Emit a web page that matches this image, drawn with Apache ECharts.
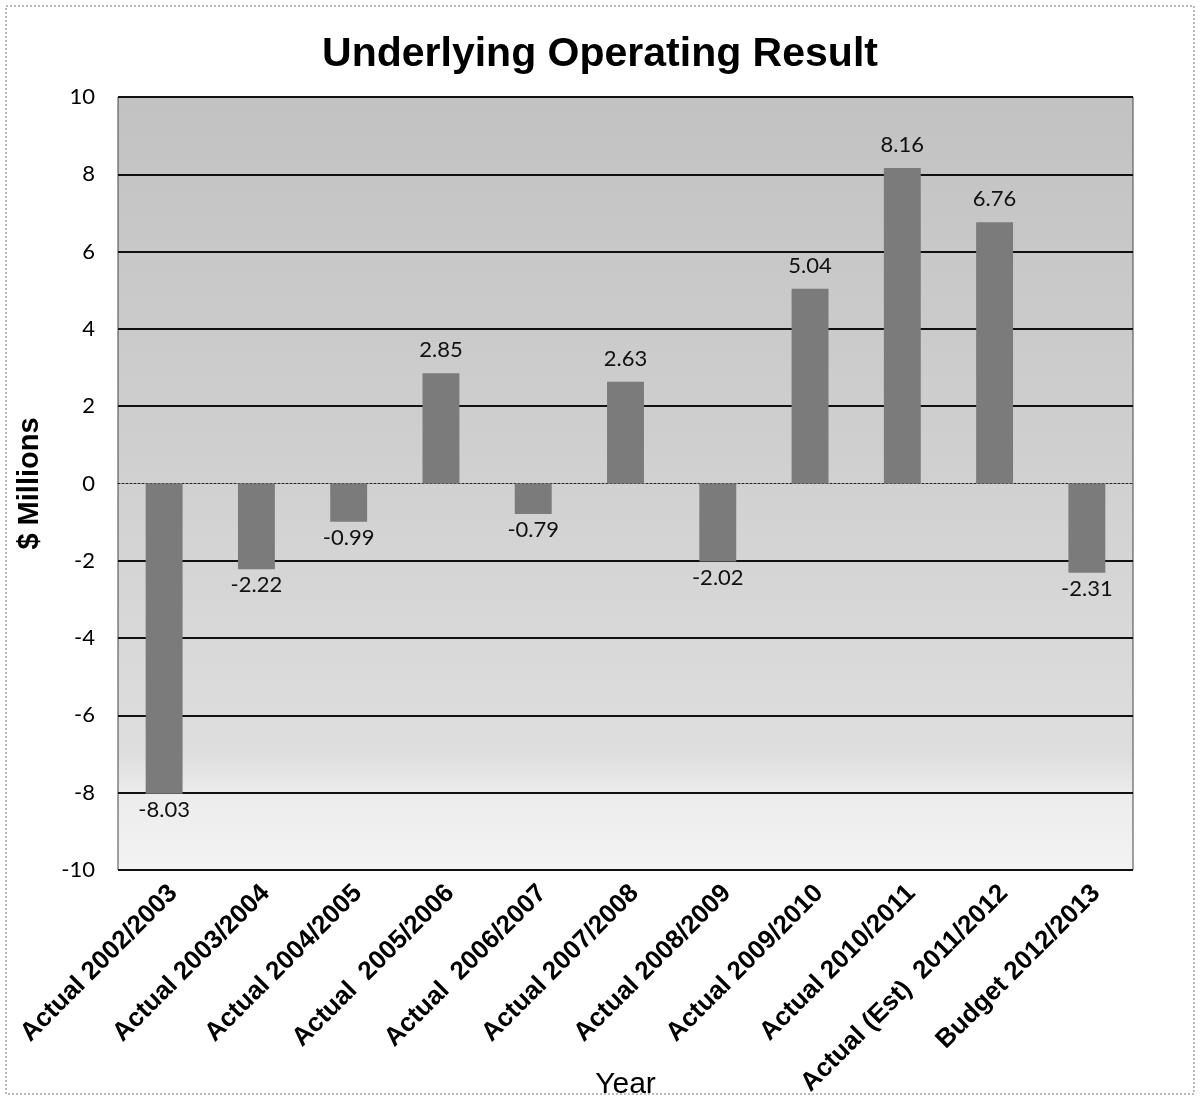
<!DOCTYPE html>
<html>
<head>
<meta charset="utf-8">
<script src="https://cdn.jsdelivr.net/npm/echarts@6/dist/echarts.min.js"></script>
<style>
  html, body { margin: 0; padding: 0; background: #fff; }
  #chart { width: 1200px; height: 1101px; }
</style>
</head>
<body>
<div id="chart"></div>
<script>
// Underlying operating result by financial year ($ millions)
const categories = [
  'Actual 2002/2003', 'Actual 2003/2004', 'Actual 2004/2005', 'Actual  2005/2006',
  'Actual  2006/2007', 'Actual 2007/2008', 'Actual 2008/2009', 'Actual 2009/2010',
  'Actual 2010/2011', 'Actual (Est)  2011/2012', 'Budget 2012/2013'
];
const results = [-8.03, -2.22, -0.99, 2.85, -0.79, 2.63, -2.02, 5.04, 8.16, 6.76, -2.31];
const yMin = -10, yMax = 10, yStep = 2;

// gridline colours, one per tick from -10 up to 10; the zero line is drawn by the x axis instead
const gridColors = [];
for (let v = yMin; v <= yMax; v += yStep) gridColors.push(v === 0 ? 'rgba(0,0,0,0)' : '#111');

const chart = echarts.init(document.getElementById('chart'));

chart.setOption({
  backgroundColor: '#ffffff',
  animation: false,
  title: {
    text: 'Underlying Operating Result',
    left: 'center',
    top: 29,
    textStyle: { fontFamily: 'Liberation Sans, Arial', fontSize: 41, fontWeight: 'bold', color: '#000' }
  },
  graphic: [{
    type: 'rect',
    shape: { x: 6, y: 6, width: 1188, height: 1088 },
    style: { fill: null, stroke: '#777', lineWidth: 1, lineDash: [2, 2] },
    silent: true
  }],
  grid: {
    left: 118, right: 67, top: 97, bottom: 231,
    containLabel: false,
    outerBoundsMode: 'none',
    show: true,
    borderColor: '#444',
    borderWidth: 1,
    backgroundColor: new echarts.graphic.LinearGradient(0, 0, 0, 1, [
      { offset: 0, color: '#c2c2c2' },
      { offset: 0.45, color: '#cfcfcf' },
      { offset: 0.85, color: '#dedede' },
      { offset: 0.9, color: '#ececec' },
      { offset: 1, color: '#f3f3f3' }
    ])
  },
  xAxis: {
    type: 'category',
    data: categories,
    name: 'Year',
    nameLocation: 'middle',
    nameGap: 200,
    nameMoveOverlap: false,
    nameTextStyle: { fontFamily: 'Liberation Sans, Arial', fontSize: 30, color: '#000' },
    axisLine: { show: true, onZero: true, lineStyle: { color: '#222', width: 1, type: [2, 2] } },
    axisTick: { show: false },
    axisLabel: {
      rotate: 45,
      interval: 0,
      margin: 10,
      verticalAlign: 'top',
      fontFamily: 'Liberation Sans, Arial',
      fontSize: 26,
      fontWeight: 'bold',
      color: '#000'
    }
  },
  yAxis: {
    type: 'value',
    min: yMin,
    max: yMax,
    interval: yStep,
    name: '$ Millions',
    nameLocation: 'middle',
    nameGap: 74,
    nameRotate: 90,
    nameMoveOverlap: false,
    nameTextStyle: { fontFamily: 'Liberation Sans, Arial', fontSize: 29, fontWeight: 'bold', color: '#000' },
    axisLine: { show: false },
    axisTick: { show: false },
    axisLabel: {
      margin: 23,
      fontFamily: 'Lato, Open Sans, sans-serif',
      fontSize: 22,
      color: '#000'
    },
    splitLine: { show: true, lineStyle: { color: gridColors, width: 2 } }
  },
  series: [{
    type: 'bar',
    data: results.map(v => ({
      value: v,
      label: { position: v < 0 ? 'bottom' : 'top', distance: v < 0 ? 5 : 12 }
    })),
    barWidth: '40%',
    itemStyle: { color: '#7b7b7b' },
    label: {
      show: true,
      fontFamily: 'Lato, Open Sans, sans-serif',
      fontSize: 22,
      color: '#111',
      formatter: p => p.value.toFixed(2)
    }
  }]
});
</script>
</body>
</html>
